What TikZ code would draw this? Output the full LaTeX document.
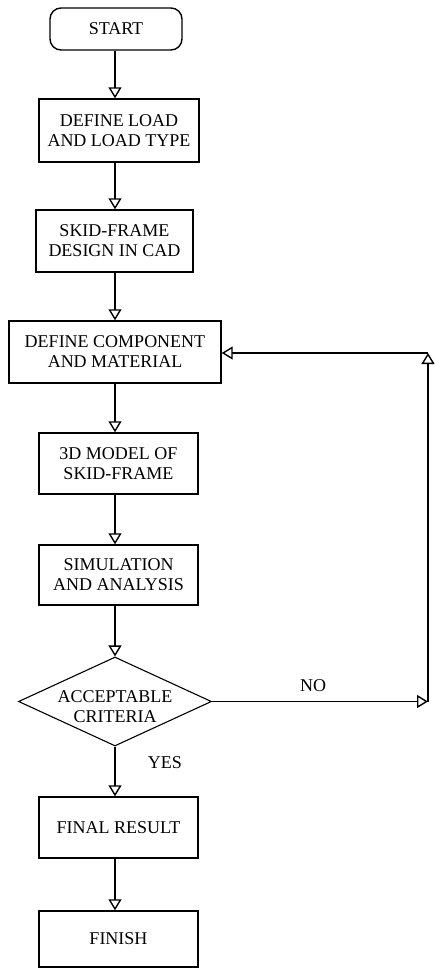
\documentclass[tikz,border=0pt]{standalone}
\usepackage{fontspec}
\setmainfont{Liberation Serif}
\newfontfamily\tmsfont{Liberation Serif}
\usetikzlibrary{arrows.meta,shapes.geometric}
\begin{document}
\begin{tikzpicture}[x=1bp,y=-1bp,
  every node/.style={font=\tmsfont\fontsize{18bp}{20bp}\selectfont, align=center, inner sep=0pt},
  procbox/.style={draw, line width=1.4bp, rectangle},
  termbox/.style={draw, line width=1.4bp, rectangle, rounded corners=11bp},
  decbox/.style={draw, line width=1.1bp, diamond},
  arr/.style={line width=1.4bp, -{Triangle[open,length=11bp,width=13bp]}},
  lbl/.style={}
]
\useasboundingbox[fill=white] (0,0) rectangle (435,969);
\coordinate (sp) at (115,0);
\node[termbox, minimum width=132bp, minimum height=42bp] (start) at (116,29) {START};
\node[procbox, minimum width=160bp, minimum height=63bp] (b1) at (119,130.5) {DEFINE LOAD\\AND LOAD TYPE};
\node[procbox, minimum width=157bp, minimum height=62bp] (b2) at (114.5,241) {SKID-FRAME\\DESIGN IN CAD};
\node[procbox, minimum width=212bp, minimum height=62bp] (b3) at (115,352) {DEFINE COMPONENT\\AND MATERIAL};
\node[procbox, minimum width=159bp, minimum height=61bp] (b4) at (118.5,463.5) {3D MODEL OF\\SKID-FRAME};
\node[procbox, minimum width=159bp, minimum height=60bp] (b5) at (118.5,575) {SIMULATION\\AND ANALYSIS};
\node[decbox, minimum width=193bp, minimum height=89bp] (dia) at (115,701.5) {};
\node (diatext) at (115,707) {ACCEPTABLE\\CRITERIA};
\node[procbox, minimum width=159bp, minimum height=61bp] (b6) at (118.5,827.5) {FINAL RESULT};
\node[procbox, minimum width=159bp, minimum height=56bp] (b7) at (118.5,939) {FINISH};
\node[lbl] (no) at (313,686) {NO};
\node[lbl] (yes) at (165,763) {YES};
\coordinate (c1) at (428,701.5);
\coordinate (c2) at (428,353);
\draw[arr] (start.south -| sp) -- (b1.north -| sp);
\draw[arr] (b1.south -| sp) -- (b2.north -| sp);
\draw[arr] (b2.south -| sp) -- (b3.north -| sp);
\draw[arr] (b3.south -| sp) -- (b4.north -| sp);
\draw[arr] (b4.south -| sp) -- (b5.north -| sp);
\draw[arr] (b5.south -| sp) -- (dia.north);
\draw[arr] (dia.south) -- (b6.north -| sp);
\draw[arr] (b6.south -| sp) -- (b7.north -| sp);
\draw[arr] (dia.east) -- (c1);
\draw[arr] (c1) -- (c2);
\draw[arr] (c2) -- (c2 -| b3.east);
\end{tikzpicture}
\end{document}
